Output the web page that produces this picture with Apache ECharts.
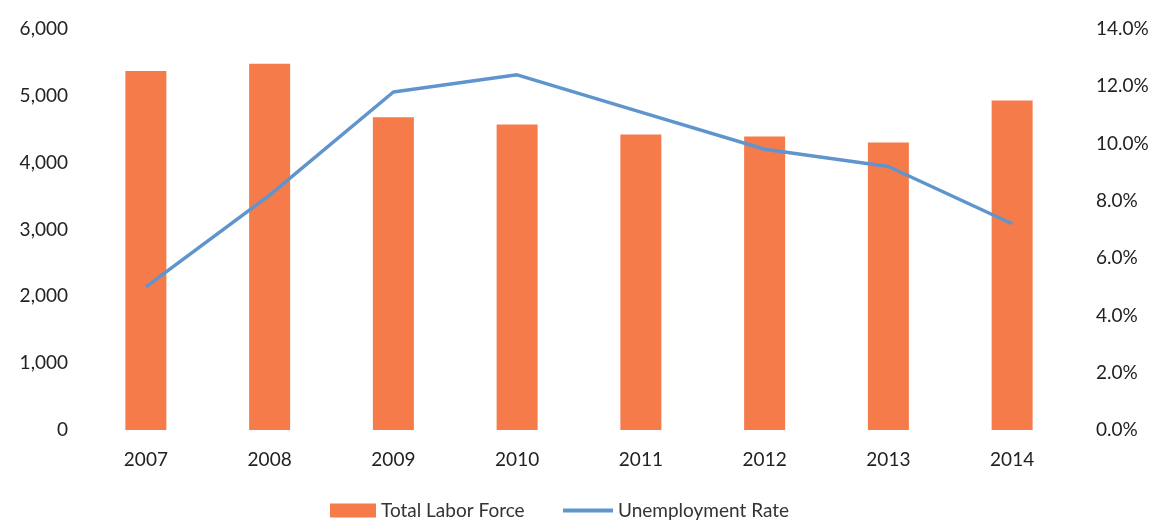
<!DOCTYPE html>
<html>
<head>
<meta charset="utf-8">
<script src="https://cdn.jsdelivr.net/npm/echarts@6/dist/echarts.min.js"></script>
<style>
html,body{margin:0;padding:0;background:#fff;}
#chart{width:1163px;height:522px;}
</style>
</head>
<body>
<div id="chart"></div>
<script>
const years = ['2007','2008','2009','2010','2011','2012','2013','2014'];
const laborForce = [5370, 5480, 4680, 4570, 4420, 4390, 4300, 4930];
const unemploymentRate = [5.0, 8.2, 11.8, 12.4, 11.1, 9.8, 9.2, 7.2];
const seriesNames = ['Total Labor Force', 'Unemployment Rate'];

const chart = echarts.init(document.getElementById('chart'));
const font = 'Lato, "Open Sans", sans-serif';
const legendText = { fontFamily: font, fontSize: 19, color: '#333' };
chart.setOption({
  backgroundColor: '#ffffff',
  animation: false,
  textStyle: { fontFamily: font },
  grid: { left: 84, right: 89, top: 29, bottom: 92 },
  legend: [
    {
      left: 325,
      top: 496,
      itemWidth: 46,
      itemHeight: 14,
      textStyle: legendText,
      data: [{ name: seriesNames[0], icon: 'rect' }]
    },
    {
      left: 558,
      top: 496,
      itemWidth: 50,
      itemHeight: 4,
      itemGap: 0,
      textStyle: legendText,
      data: [{ name: seriesNames[1], icon: 'rect' }]
    }
  ],
  xAxis: {
    type: 'category',
    data: years,
    axisLine: { show: false },
    axisTick: { show: false },
    axisLabel: { fontFamily: font, fontSize: 19, color: '#222', margin: 20 }
  },
  yAxis: [
    {
      type: 'value',
      min: 0, max: 6000, interval: 1000,
      splitLine: { show: false },
      axisLine: { show: false },
      axisTick: { show: false },
      axisLabel: {
        fontFamily: font, fontSize: 19, color: '#222', margin: 16,
        formatter: v => v.toLocaleString('en-US')
      }
    },
    {
      type: 'value',
      min: 0, max: 14, interval: 2,
      splitLine: { show: false },
      axisLine: { show: false },
      axisTick: { show: false },
      axisLabel: {
        fontFamily: font, fontSize: 19, color: '#222', margin: 22,
        formatter: v => v.toFixed(1) + '%'
      }
    }
  ],
  series: [
    {
      name: seriesNames[0],
      type: 'bar',
      data: laborForce,
      barWidth: 41,
      itemStyle: { color: '#f57b4b' }
    },
    {
      name: seriesNames[1],
      type: 'line',
      yAxisIndex: 1,
      data: unemploymentRate,
      symbol: 'none',
      lineStyle: { color: '#5f95cc', width: 3.5 },
      itemStyle: { color: '#5f95cc' }
    }
  ]
});
</script>
</body>
</html>
